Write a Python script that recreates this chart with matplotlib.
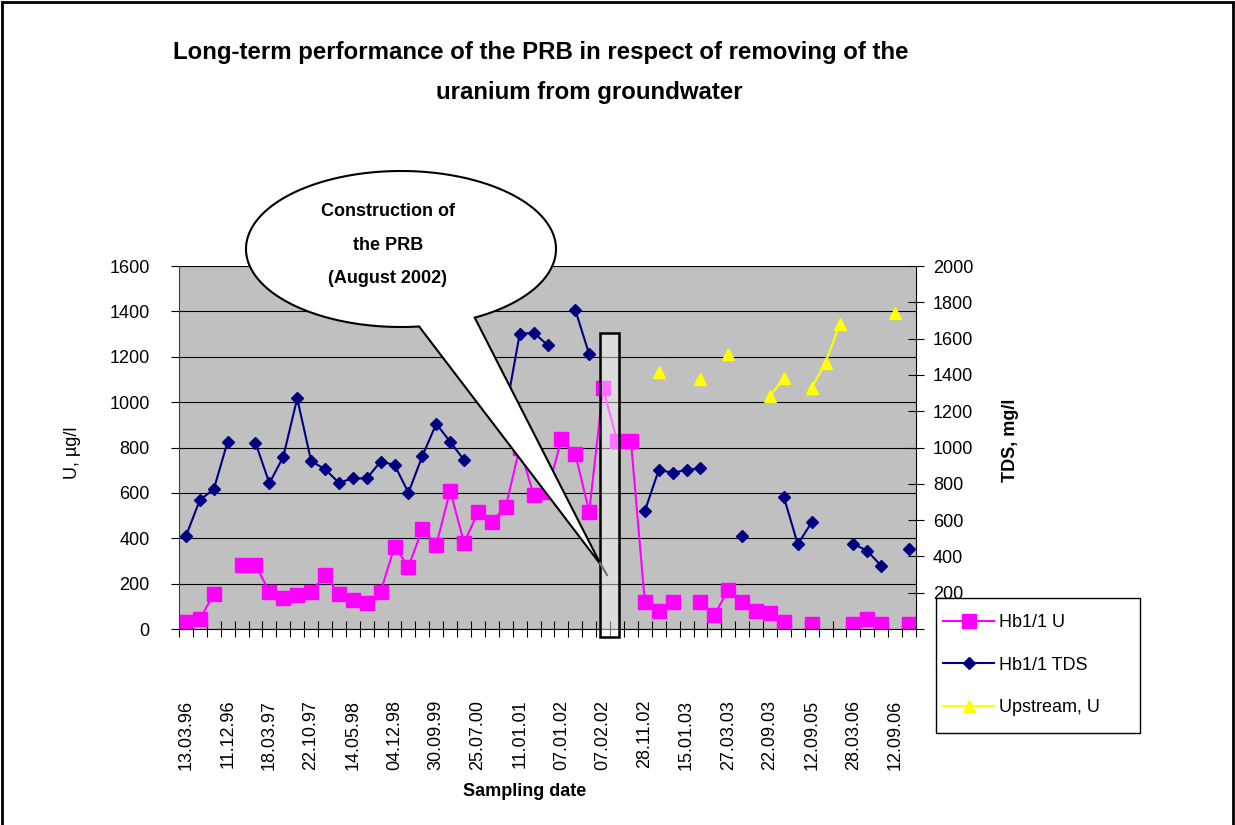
import matplotlib.pyplot as plt
import numpy as np
from matplotlib.patches import Polygon, Rectangle
from matplotlib.lines import Line2D

plt.rcParams['font.family'] = ['Liberation Sans', 'DejaVu Sans']

nan = np.nan

# sampling campaigns, every third one is labelled on the axis
date_labels = ['13.03.96', '11.12.96', '18.03.97', '22.10.97', '14.05.98', '04.12.98',
               '30.09.99', '25.07.00', '11.01.01', '07.01.02', '07.02.02', '28.11.02',
               '15.01.03', '27.03.03', '22.09.03', '12.09.05', '28.03.06', '12.09.06']

# uranium in well Hb1/1, ug/l
hb_u = [32, 44, 153, nan, 282, 282, 165, 138, 150, 162,
        238, 153, 128, 115, 165, 363, 275, 440, 370, 610,
        380, 514, 473, 539, 800, 590, 605, 836, 771, 517,
        1061, 830, 830, 118, 79, 118, nan, 118, 62, 172,
        118, 79, 69, 32, nan, 21, nan, nan, 21, 44,
        21, nan, 21]

# total dissolved solids in Hb1/1, mg/l
hb_tds = [512, 711, 770, 1032, nan, 1027, 803, 949, 1271, 926,
          880, 806, 830, 830, 922, 904, 751, 953, 1130, 1032,
          931, nan, nan, 1200, 1625, 1633, 1565, nan, 1758, 1513,
          nan, nan, nan, 650, 876, 861, 876, 885, nan, nan,
          512, nan, nan, 726, 467, 588, nan, nan, 468, 431,
          347, nan, 441]

# uranium upstream of the barrier, ug/l
upstream_u = [nan] * 34 + [1134, nan, nan, 1100, nan, 1212, nan, nan, 1027, 1105,
                           nan, 1064, 1174, 1343, nan, nan, nan, 1394, nan]

W, H = 1235, 825
fig = plt.figure(figsize=(W / 100, H / 100), dpi=100)
ax = fig.add_axes([179 / W, 1 - 629 / H, 737 / W, 363 / H])
ax2 = ax.twinx()

x = np.arange(len(hb_u))

ax.set_facecolor('#C0C0C0')
l_u, = ax.plot(x, hb_u, color='#FF00FF', marker='s', ms=10.5, mec='#FF00FF', lw=1.5, label='Hb1/1 U')
l_up, = ax.plot(x, upstream_u, color='#FFFF00', marker='^', ms=9, mec='#FFFF00', lw=1.5, label='Upstream, U')
l_tds, = ax2.plot(x, hb_tds, color='#000080', marker='D', ms=6.2, mec='#000080', lw=1.5, label='Hb1/1 TDS')

ax.set_xlim(-0.5, len(x) - 0.5)
ax.set_ylim(0, 1600)
ax.set_yticks(range(0, 1601, 200))
ax.grid(axis='y', color='black', lw=0.8)

ax.set_xticks(x[::3])
ax.set_xticklabels(date_labels, rotation=90)
ax.tick_params(axis='x', which='major', length=0, pad=51, labelsize=13)
ax.set_xticks(np.arange(-0.5, len(x)), minor=True)
ax.tick_params(axis='x', which='minor', direction='inout', length=12, width=0.8)
ax.tick_params(axis='y', direction='out', length=6, width=0.8, pad=15, labelsize=13)

tds_ticks = list(range(0, 2001, 200))
ax2.set_ylim(0, 2000)
ax2.set_yticks(tds_ticks)
ax2.set_yticklabels(['' if v == 0 else str(v) for v in tds_ticks])
ax2.tick_params(axis='y', direction='inout', length=11.5, width=0.8, pad=6.5, labelsize=13)

for s in ['top', 'right']:
    ax.spines[s].set_visible(False)
for s in ['top', 'left', 'bottom']:
    ax2.spines[s].set_visible(False)
ax.spines['left'].set_color('#404040')

ax.set_xlabel('Sampling date', fontsize=13, fontweight='bold')
ax.xaxis.set_label_coords((525 - 179) / 737, (629 - 783) / 363)
ax.set_ylabel('U, µg/l', fontsize=13, va='center')
ax.yaxis.set_label_coords((73 - 179) / 737, (629 - 453) / 363)
ax2.set_ylabel('TDS, mg/l', fontsize=13, fontweight='bold', va='center')
ax2.yaxis.set_label_coords((1010 - 179) / 737, (629 - 440) / 363)

fig.text(541 / W, 1 - 52 / H, 'Long-term performance of the PRB in respect of removing of the',
         ha='center', va='center', fontsize=17.3, fontweight='bold')
fig.text(589 / W, 1 - 93 / H, 'uranium from groundwater',
         ha='center', va='center', fontsize=17.3, fontweight='bold')

# barrier construction period
ax_box = Rectangle((29.77, -34), 1.37, 1340, transform=ax.transData,
                   facecolor=(1, 1, 1, 0.45), edgecolor='black', lw=1.8, zorder=2)
fig.add_artist(ax_box)

# speech bubble pointing at the construction period
cx, cy, a, b = 401, H - 249, 155, 78
t = np.radians(np.linspace(-61.6, 276.7, 200))
pts = np.column_stack([cx + a * np.cos(t), cy + b * np.sin(t)])
pts = np.vstack([[601, H - 565], pts])
fig.add_artist(Polygon(pts / [W, H], closed=True, transform=fig.transFigure,
                       facecolor='white', edgecolor='black', lw=1.5, zorder=3))
fig.add_artist(Line2D([600 / W, 607 / W], [1 - 563 / H, 1 - 575 / H], transform=fig.transFigure,
                      color='#707070', lw=1.5, zorder=3))
fig.text(388 / W, 1 - 245 / H, 'Construction of\nthe PRB\n(August 2002)', ha='center', va='center',
         fontsize=13, fontweight='bold', linespacing=2.3, zorder=4)

# legend box drawn separately so the entries can sit where they belong
fig.add_artist(Rectangle((936 / W, 1 - 733 / H), 204 / W, 135 / H, transform=fig.transFigure,
                         facecolor='white', edgecolor='black', lw=1, zorder=5))
leg = fig.legend(handles=[l_u, l_tds, l_up], loc='upper left',
                 bbox_to_anchor=(936 / W, 1 - 607 / H), frameon=False,
                 fontsize=13, handlelength=2.8, handletextpad=0.3, borderpad=0.4,
                 labelspacing=1.41, borderaxespad=0)
leg.set_zorder(6)

fig.add_artist(Rectangle((2 / W, -0.01), (W - 4) / W, 1.01 - 2 / H, transform=fig.transFigure,
                         fill=False, edgecolor='black', lw=2, zorder=7))

fig.savefig('out.png', dpi=100)
